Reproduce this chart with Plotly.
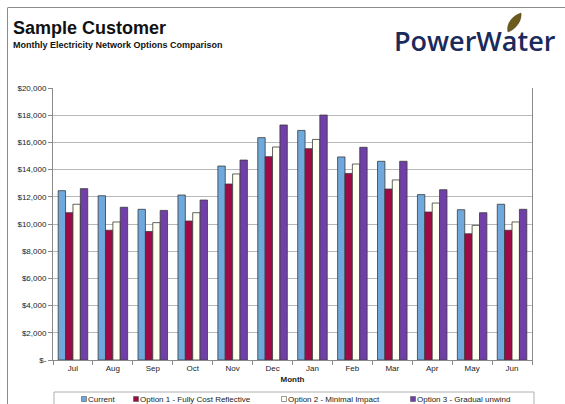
import plotly.graph_objects as go

months = ["Jul", "Aug", "Sep", "Oct", "Nov", "Dec", "Jan", "Feb", "Mar", "Apr", "May", "Jun"]
current = [12450, 12080, 11080, 12130, 14260, 16350, 16880, 14930, 14610, 12160, 11050, 11450]
option1 = [10830, 9540, 9450, 10220, 12940, 14950, 15540, 13720, 12570, 10880, 9280, 9540]
option2 = [11450, 10150, 10100, 10830, 13680, 15660, 16220, 14410, 13240, 11540, 9900, 10150]
option3 = [12600, 11230, 11000, 11760, 14700, 17280, 18010, 15640, 14610, 12520, 10830, 11080]
series_names = ["Current", "Option 1 - Fully Cost Reflective",
                "Option 2 - Minimal Impact", "Option 3 - Gradual unwind"]
series_colors = ["#6FA8DC", "#9E0A45", "#FFFFF2", "#7040A8"]
ytick_vals = [0, 2000, 4000, 6000, 8000, 10000, 12000, 14000, 16000, 18000, 20000]
ytick_text = ["$-", "$2,000", "$4,000", "$6,000", "$8,000", "$10,000", "$12,000",
              "$14,000", "$16,000", "$18,000", "$20,000"]

W, H = 565, 404
L, R, T, B = 53, 532, 88, 360
PW, PH = R - L, B - T


def px(x):
    return (x - L) / PW


def py(y):
    return (B - y) / PH


FONT = "Arial, Liberation Sans, sans-serif"
fig = go.Figure()
data = [current, option1, option2, option3]
for name, vals, col in zip(series_names, data, series_colors):
    fig.add_trace(go.Bar(x=months, y=vals, name=name, marker_color=col,
                         marker_line=dict(color="#3a3a3a", width=0.8),
                         showlegend=False))

# legend entries: text from native legends (one per series so each can be placed),
# small square swatches drawn just left of each text
leg_text_x = [88, 140, 288, 417]
legend_ids = ["legend", "legend2", "legend3", "legend4"]
for name, col, lid in zip(series_names, series_colors, legend_ids):
    fig.add_trace(go.Scatter(x=[None], y=[None], mode="markers", name=name,
                             marker=dict(symbol="square", size=1, color="rgba(0,0,0,0)"),
                             legend=lid, showlegend=True))

layout_legends = {}
for lid, tx in zip(legend_ids, leg_text_x):
    layout_legends[lid] = dict(x=(tx - 40) / W, y=1 - 399 / H, xref="container", yref="container",
                               xanchor="left", yanchor="middle",
                               orientation="h", bgcolor="rgba(0,0,0,0)", borderwidth=0,
                               font=dict(family=FONT, size=8, color="#222"),
                               itemwidth=30)

fig.update_layout(
    width=W, height=H,
    margin=dict(l=L, r=W - R, t=T, b=H - B, autoexpand=False),
    paper_bgcolor="white", plot_bgcolor="white",
    barmode="group", bargap=0.26, bargroupgap=0,
    font=dict(family=FONT, size=8, color="#222"),
    xaxis=dict(type="category", showgrid=False, showline=True, linecolor="#8a8a8a",
               linewidth=1, ticks="outside", tickson="boundaries", ticklen=4,
               tickcolor="#8a8a8a", tickfont=dict(size=8, color="#222"),
               title=dict(text="<b>Month</b>", font=dict(size=8, color="#222"), standoff=9),
               mirror=False),
    yaxis=dict(range=[0, 20000], tickvals=ytick_vals, ticktext=ytick_text,
               showgrid=True, gridcolor="#b8b8b8", gridwidth=1,
               showline=True, linecolor="#8a8a8a", linewidth=1, mirror=True,
               ticks="outside", ticklen=4, tickcolor="#8a8a8a",
               tickfont=dict(size=8, color="#222"), zeroline=False),
    **layout_legends,
)

for tx, col in zip(leg_text_x, series_colors):
    fig.add_shape(type="rect", xref="paper", yref="paper",
                  x0=px(tx - 6.5), x1=px(tx - 1.5), y0=py(401.5), y1=py(396.5),
                  fillcolor=col, line=dict(color="#555", width=0.6))

# page frame lines and legend box
fig.add_shape(type="line", xref="paper", yref="paper", x0=px(8), x1=px(565), y0=py(7.5), y1=py(7.5),
              line=dict(color="#8c8c8c", width=1))
fig.add_shape(type="line", xref="paper", yref="paper", x0=px(7.5), x1=px(7.5), y0=py(7.5), y1=py(404),
              line=dict(color="#8c8c8c", width=1))
fig.add_shape(type="rect", xref="paper", yref="paper", x0=px(54), x1=px(534), y0=py(392), y1=py(410),
              line=dict(color="#b0b0b0", width=1), fillcolor="rgba(0,0,0,0)")

# titles
fig.add_annotation(text="<b>Sample Customer</b>", xref="paper", yref="paper", x=px(11), y=py(28),
                   xanchor="left", yanchor="middle", showarrow=False,
                   font=dict(family=FONT, size=18, color="#111"))
fig.add_annotation(text="<b>Monthly Electricity Network Options Comparison</b>", xref="paper",
                   yref="paper", x=px(11), y=py(45), xanchor="left", yanchor="middle",
                   showarrow=False, font=dict(family=FONT, size=9, color="#111"))

# logo
fig.add_annotation(text="PowerWater", xref="paper", yref="paper", x=px(475), y=py(41),
                   xanchor="center", yanchor="middle", showarrow=False,
                   font=dict(family="Open Sans, sans-serif", size=27, color="#1B2A5C", weight=600))
leaf = [(508, 32), (506, 24), (512, 16), (521, 13), (522, 21), (516, 29), (508, 32)]
p = "M {:.4f} {:.4f} C {:.4f} {:.4f}, {:.4f} {:.4f}, {:.4f} {:.4f} C {:.4f} {:.4f}, {:.4f} {:.4f}, {:.4f} {:.4f} Z".format(
    *[v for pt in leaf for v in (px(pt[0]), py(pt[1]))])
fig.add_shape(type="path", xref="paper", yref="paper", path=p,
              fillcolor="#6B5A1E", line=dict(color="#4A3C10", width=0.5))

fig.write_html("out.html", config={"displayModeBar": False},
               post_script="document.body.style.margin='0';document.body.style.overflow='hidden';")
